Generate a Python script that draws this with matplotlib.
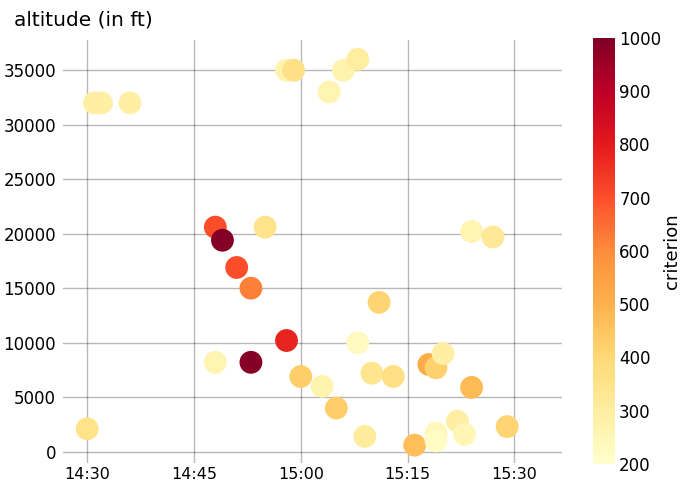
import datetime as dt

import matplotlib
matplotlib.use("Agg")
import matplotlib.dates as mdates
import matplotlib.pyplot as plt


# flight points: time (HH:MM), altitude in ft, criterion value
times = [
    "14:31", "14:32", "14:36", "14:58", "14:59", "15:04", "15:06", "15:08",
    "14:48", "14:49", "14:55", "15:24", "15:27", "14:51", "14:53", "14:58",
    "14:48", "14:53", "15:00", "15:03", "15:05", "15:08", "14:30", "15:11",
    "15:10", "15:13", "15:09", "15:16", "15:18", "15:19", "15:20", "15:19",
    "15:19", "15:22", "15:23", "15:24", "15:29",
]
altitude = [
    32000, 32000, 32000, 35000, 35000, 33000, 35000, 36000,
    20600, 19400, 20600, 20200, 19700, 16900, 15000, 10200,
    8200, 8200, 6900, 6000, 4000, 10000, 2100, 13700,
    7200, 6900, 1400, 600, 8000, 7700, 9000, 1700,
    1000, 2800, 1600, 5900, 2300,
]
criterion = [
    290, 290, 290, 270, 360, 260, 270, 300,
    700, 990, 350, 260, 320, 700, 620, 780,
    260, 990, 430, 270, 430, 230, 350, 410,
    340, 370, 310, 470, 520, 420, 290, 240,
    220, 290, 250, 480, 410,
]

CMAP = "YlOrRd"
VMIN, VMAX = 200, 1000


def to_dt(s):
    h, m = s.split(":")
    return dt.datetime(2020, 1, 1, int(h), int(m))


def main():
    plt.rcParams["font.family"] = ["DejaVu Sans"]
    fig = plt.figure(figsize=(6.9, 4.86), dpi=100)
    ax = fig.add_axes([0.0913, 0.0473, 0.7232, 0.8704])
    cax = fig.add_axes([0.8594, 0.0453, 0.0319, 0.8765])

    x = [to_dt(t) for t in times]
    sc = ax.scatter(x, altitude, c=criterion, cmap=CMAP, vmin=VMIN, vmax=VMAX,
                    s=270, linewidths=0, zorder=3)

    ax.set_xlim(dt.datetime(2020, 1, 1, 14, 26, 36), dt.datetime(2020, 1, 1, 15, 36, 42))
    ax.set_ylim(-1040, 37770)
    ax.xaxis.set_major_locator(mdates.MinuteLocator(byminute=[0, 15, 30, 45]))
    ax.xaxis.set_major_formatter(mdates.DateFormatter("%H:%M"))
    ax.set_yticks(range(0, 35001, 5000))
    ax.tick_params(axis="y", length=0, labelsize=12, pad=5)
    ax.tick_params(axis="x", length=0, labelsize=11.5, pad=3)
    ax.grid(True, color="black", alpha=0.28, linewidth=1, zorder=0)
    for sp in ax.spines.values():
        sp.set_visible(False)

    fig.text(14 / 690, 1 - 20 / 486, "altitude (in ft)", fontsize=14.5, ha="left", va="center")

    cb = fig.colorbar(sc, cax=cax)
    cb.outline.set_visible(False)
    cb.set_ticks(range(200, 1001, 100))
    cb.ax.tick_params(length=0, labelsize=12, pad=3)
    cb.set_label("criterion", fontsize=13, labelpad=1)

    fig.savefig("out.png", dpi=100)
    plt.close(fig)


if __name__ == "__main__":
    main()
